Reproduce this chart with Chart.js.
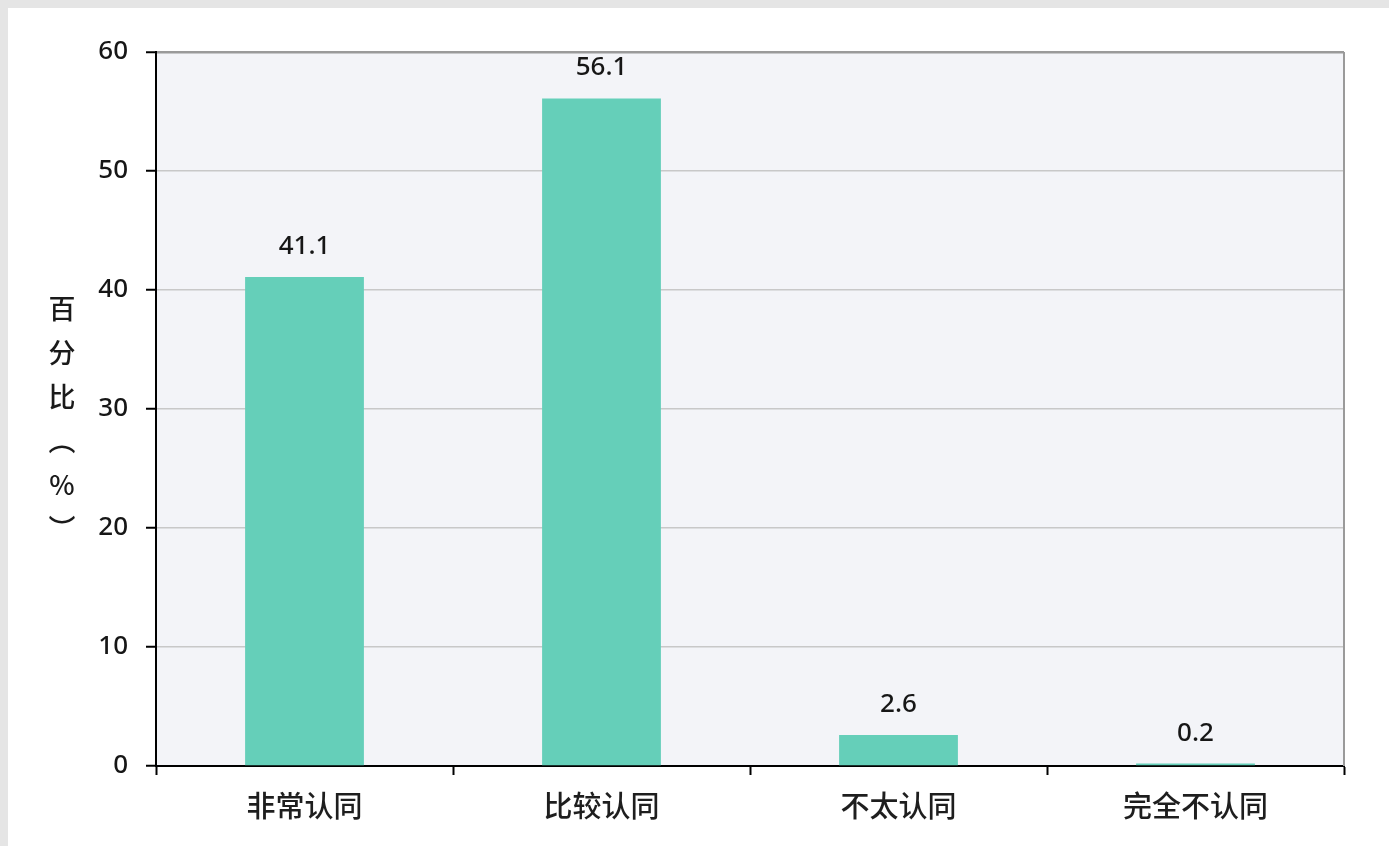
<!DOCTYPE html>
<html>
<head>
<meta charset="utf-8">
<script src="https://cdn.jsdelivr.net/npm/chart.js@4"></script>
<style>
  html, body { margin: 0; padding: 0; background: #e5e5e5; width: 1389px; height: 846px; overflow: hidden; }
  #wrap { position: absolute; left: 8px; top: 8px; width: 1381px; height: 838px; background: #ffffff; }
  canvas { display: block; }
</style>
</head>
<body>
<div id="wrap"><canvas id="c" width="1381" height="838"></canvas></div>
<script>
const categories = ['非常认同', '比较认同', '不太认同', '完全不认同'];
const values = [41.1, 56.1, 2.6, 0.2];
const yMin = 0;
const yMax = 60;
const yStep = 10;
const yTitleChars = ['百', '分', '比', '︵', '%', '︶'];

const barColor = '#65cfb9';
const plotBg = '#f3f4f8';

const bgPlugin = {
  id: 'plotBg',
  beforeDraw(chart) {
    const { ctx, chartArea: a } = chart;
    ctx.save();
    ctx.fillStyle = plotBg;
    ctx.fillRect(a.left, a.top, a.right - a.left, a.bottom - a.top);
    ctx.restore();
  },
  afterDraw(chart) {
    const { ctx, chartArea: a } = chart;
    ctx.save();
    ctx.strokeStyle = '#9a9a9a';
    ctx.lineWidth = 2;
    ctx.beginPath();
    ctx.moveTo(a.right, a.top);
    ctx.lineTo(a.right, a.bottom);
    ctx.stroke();
    ctx.fillStyle = '#1a1a1a';
    ctx.font = '500 27px "Noto Sans CJK SC"';
    ctx.textAlign = 'center';
    ctx.textBaseline = 'middle';
    const x = 54;
    const y0 = 301;
    const step = 44;
    yTitleChars.forEach((ch, i) => ctx.fillText(ch, x, y0 + i * step));
    ctx.restore();
  }
};

const labelPlugin = {
  id: 'valueLabels',
  afterDatasetsDraw(chart) {
    const { ctx } = chart;
    const meta = chart.getDatasetMeta(0);
    ctx.save();
    ctx.fillStyle = '#161616';
    ctx.font = '500 26px "Noto Sans", "Noto Sans CJK SC"';
    ctx.textAlign = 'center';
    ctx.textBaseline = 'alphabetic';
    meta.data.forEach((bar, i) => {
      ctx.fillText(values[i].toFixed(1), bar.x, bar.y - 23);
    });
    ctx.restore();
  }
};

new Chart(document.getElementById('c'), {
  type: 'bar',
  data: {
    labels: categories,
    datasets: [{
      data: values,
      backgroundColor: barColor,
      borderWidth: 0,
      barPercentage: 0.4,
      categoryPercentage: 1.0
    }]
  },
  options: {
    responsive: false,
    animation: false,
    devicePixelRatio: 1,
    layout: { padding: { left: 0, right: 45, top: 44, bottom: 0 } },
    plugins: { legend: { display: false }, tooltip: { enabled: false } },
    scales: {
      x: {
        afterFit(scale) { scale.height = 80; },
        grid: {
          offset: true,
          drawOnChartArea: false,
          drawTicks: true,
          tickLength: 9,
          tickColor: '#000000',
          tickWidth: 2
        },
        border: { color: '#000000', width: 2 },
        ticks: {
          color: '#1e1e1e',
          font: { family: '"Noto Sans CJK SC"', size: 29, weight: '500' },
          padding: 14
        }
      },
      y: {
        min: yMin,
        max: yMax,
        afterFit(scale) { scale.width = 148; },
        ticks: {
          stepSize: yStep,
          color: '#161616',
          font: { family: '"Noto Sans", "Noto Sans CJK SC"', size: 26, weight: '500' },
          padding: 18
        },
        grid: {
          color: (ctx) => (ctx.tick && ctx.tick.value === yMax ? '#9a9a9a' : '#c8c8c8'),
          lineWidth: (ctx) => (ctx.tick && ctx.tick.value === yMax ? 2.5 : 1.5),
          tickLength: 10,
          tickColor: '#000000',
          tickWidth: 2
        },
        border: { color: '#000000', width: 2 }
      }
    }
  },
  plugins: [bgPlugin, labelPlugin]
});
</script>
</body>
</html>
